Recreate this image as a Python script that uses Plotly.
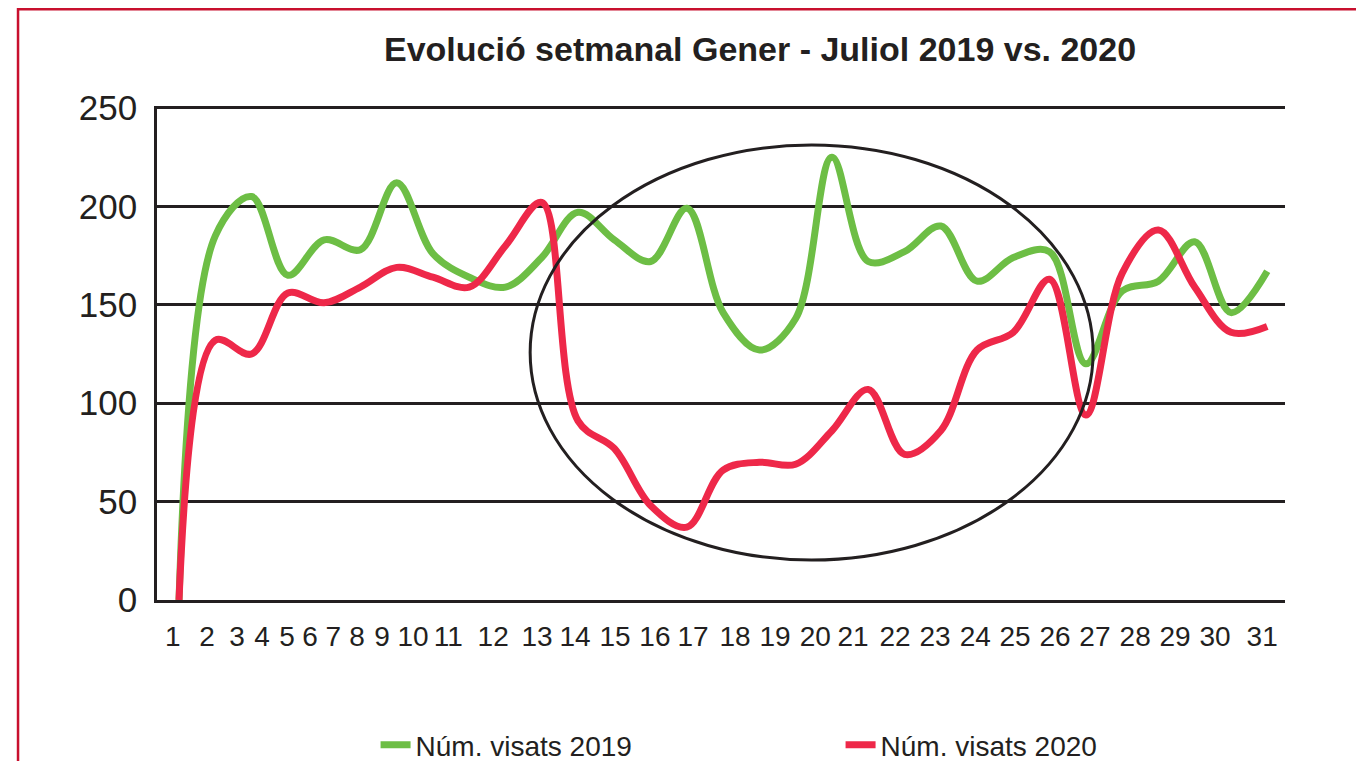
import plotly.graph_objects as go

# ---- data -------------------------------------------------------------
weeks = list(range(1, 32))
visats_2019 = [0, 185, 205, 165, 183, 178, 212, 176, 164, 159, 174, 197, 183, 172, 199,
               146, 127, 143, 225, 172, 177, 190, 162, 174, 177, 120, 157, 162, 182, 146, 167]
visats_2020 = [0, 132, 125, 156, 151, 159, 169, 164, 159, 180, 202, 91, 77, 48, 37,
               66, 70, 69, 86, 107, 74, 86, 127, 136, 163, 94, 166, 188, 159, 136, 139]
tick_labels = [str(w) for w in weeks]
y_ticks = [0, 50, 100, 150, 200, 250]

# ---- layout settings (label placement as in the original graphic) -----
xtick_positions = [0.83, 1.77, 2.60, 3.29, 3.98, 4.61, 5.25, 5.91, 6.60, 7.45, 8.42,
                   9.66, 10.87, 11.92, 13.02, 14.12, 15.17, 16.33, 17.43, 18.54, 19.58,
                   20.74, 21.84, 22.95, 24.05, 25.15, 26.25, 27.36, 28.46, 29.56, 30.86]

FONT = "Liberation Sans, Arial, sans-serif"
INK = "#231f20"
GREEN = "#6dbe45"
RED = "#ee2849"

fig = go.Figure()
fig.add_trace(go.Scatter(x=weeks, y=visats_2019, mode="lines", name="Núm. visats 2019",
                         line=dict(color=GREEN, width=7, shape="spline", smoothing=1)))
fig.add_trace(go.Scatter(x=weeks, y=visats_2020, mode="lines", name="Núm. visats 2020",
                         line=dict(color=RED, width=7, shape="spline", smoothing=1)))

# highlight ellipse
fig.add_shape(type="circle", xref="x", yref="y", x0=10.68, x1=26.20, y0=20.3, y1=231.2,
              line=dict(color=INK, width=3), layer="above")
# outer red frame
fig.add_shape(type="rect", xref="paper", yref="paper", x0=-0.1232, x1=1.0650,
              y0=-0.6, y1=1.196, line=dict(color="#c8102e", width=2.5))

W, H = 1356, 753
fig.update_layout(
    width=W, height=H, autosize=False,
    margin=dict(l=149, r=79, t=98, b=161, autoexpand=False),
    paper_bgcolor="white", plot_bgcolor="white",
    font=dict(family=FONT, color=INK),
    title=dict(text="Evolució setmanal Gener - Juliol 2019 vs. 2020",
               font=dict(family=FONT, size=34, color=INK, weight="bold"),
               xref="paper", x=0.5346, xanchor="center",
               yref="container", y=1 - 41 / H, yanchor="middle"),
    showlegend=True,
    legend=dict(orientation="h", x=0.606, xanchor="center",
                y=(592 - 737) / 494, yanchor="middle",
                entrywidth=420, entrywidthmode="pixels",
                font=dict(family=FONT, size=28, color=INK)),
    xaxis=dict(range=[0.393, 31.49], tickmode="array", tickvals=xtick_positions,
               ticktext=tick_labels, tickangle=0, showgrid=False, zeroline=False,
               showline=True, linecolor=INK, linewidth=2.5, ticks="",
               tickfont=dict(family=FONT, size=28, color=INK), ticklabelstandoff=10),
    yaxis=dict(range=[0, 251], tickmode="array", tickvals=y_ticks, showgrid=True,
               gridcolor=INK, gridwidth=2.5, zeroline=False, showline=True,
               linecolor=INK, linewidth=2.5, ticks="",
               tickfont=dict(family=FONT, size=35, color=INK), ticklabelstandoff=10),
)

fig.write_html("out.html")
